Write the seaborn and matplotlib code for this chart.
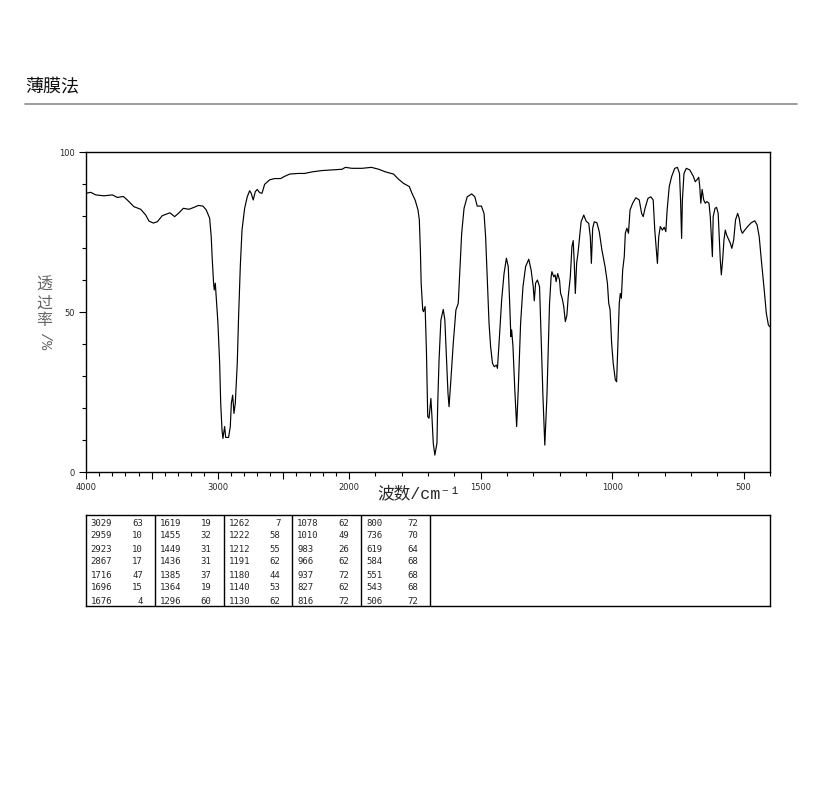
import numpy as np
import matplotlib
matplotlib.use("Agg")
import matplotlib.pyplot as plt
import seaborn as sns

# IR spectrum (wavenumber cm-1, transmittance %)
wavenumber = [
    4000, 3964, 3926, 3863, 3800, 3762, 3716, 3686, 3635, 3584, 3546, 3521, 3488, 3458,
    3420, 3387, 3362, 3326, 3293, 3260, 3217, 3179, 3145, 3111, 3086, 3060, 3048, 3040,
    3030, 3025, 3017, 3010, 2997, 2984, 2976, 2966, 2959, 2946, 2938, 2916, 2903, 2895,
    2885, 2875, 2865, 2850, 2840, 2827, 2814, 2794, 2774, 2756, 2744, 2729, 2713, 2698,
    2680, 2662, 2642, 2604, 2566, 2520, 2495, 2452, 2389, 2338, 2280, 2206, 2130, 2054,
    2028, 1989, 1951, 1915, 1887, 1862, 1831, 1812, 1793, 1771, 1761, 1749, 1738, 1733,
    1729, 1726, 1720, 1717, 1711, 1706, 1701, 1696, 1689, 1685, 1680, 1674, 1666, 1663,
    1658, 1651, 1642, 1636, 1630, 1624, 1620, 1613, 1604, 1594, 1585, 1578, 1572, 1563,
    1551, 1534, 1522, 1513, 1497, 1487, 1481, 1474, 1468, 1462, 1455, 1448, 1440, 1436,
    1430, 1420, 1411, 1402, 1395, 1390, 1385, 1382, 1377, 1370, 1363, 1357, 1348, 1339,
    1329, 1317, 1308, 1300, 1296, 1291, 1284, 1276, 1270, 1263, 1256, 1248, 1243, 1238,
    1232, 1229, 1222, 1217, 1213, 1207, 1200, 1196, 1190, 1184, 1178, 1172, 1167, 1159,
    1153, 1148, 1144, 1140, 1135, 1130, 1125, 1118, 1108, 1099, 1089, 1083, 1079, 1074,
    1068, 1058, 1049, 1039, 1027, 1018, 1013, 1008, 1002, 996, 988, 983, 979, 973,
    969, 965, 960, 954, 950, 944, 938, 932, 922, 910, 897, 888, 882, 875,
    864, 853, 844, 838, 832, 828, 823, 817, 809, 802, 796, 791, 783, 774,
    762, 752, 744, 740, 736, 733, 727, 718, 705, 692, 684, 676, 671, 667,
    663, 658, 652, 646, 640, 632, 627, 623, 619, 616, 609, 603, 597, 593,
    589, 585, 580, 575, 570, 565, 559, 551, 545, 538, 531, 523, 517, 511,
    505, 496, 483, 471, 458, 449, 441, 433, 422, 414, 406, 400,
]
transmittance = [
    87.1, 87.4, 86.6, 86.3, 86.6, 85.8, 86.1, 85.0, 82.9, 82.1, 80.3, 78.4, 77.8, 78.2,
    80.1, 80.6, 81.0, 79.8, 81.0, 82.4, 82.1, 82.7, 83.3, 83.1, 81.9, 79.3, 73.5, 66.3,
    59.0, 56.9, 59.0, 54.8, 46.5, 34.0, 21.5, 13.1, 10.5, 14.2, 10.8, 10.8, 14.2, 21.5,
    24.0, 18.3, 21.5, 34.0, 48.5, 64.2, 75.6, 82.4, 86.0, 87.9, 87.1, 85.0, 87.6, 88.3,
    87.3, 87.1, 89.9, 91.3, 91.7, 91.7, 92.3, 93.1, 93.3, 93.3, 93.8, 94.2, 94.4, 94.6,
    95.2, 94.9, 94.9, 95.2, 94.6, 93.8, 93.1, 91.5, 90.2, 89.2, 87.1, 85.0, 81.9, 78.8,
    69.4, 59.0, 50.6, 50.1, 51.7, 38.0, 17.3, 16.8, 23.0, 17.3, 9.0, 5.3, 9.0, 21.5,
    35.0, 47.5, 50.8, 47.5, 36.0, 24.6, 20.4, 28.8, 40.2, 50.6, 52.7, 64.2, 74.6, 82.4,
    86.0, 86.9, 86.0, 83.1, 83.1, 80.8, 73.5, 59.0, 46.5, 39.2, 34.0, 32.9, 33.4, 32.4,
    40.2, 53.8, 62.0, 66.8, 64.2, 53.8, 42.3, 44.4, 39.2, 25.6, 14.2, 25.6, 46.5, 57.9,
    64.2, 66.5, 63.1, 57.9, 53.5, 59.0, 60.0, 57.9, 42.3, 23.5, 8.4, 23.5, 38.0, 52.7,
    61.0, 62.6, 61.0, 61.6, 59.5, 62.0, 60.0, 55.8, 54.3, 51.7, 47.0, 49.0, 54.8, 61.0,
    70.4, 72.3, 65.2, 55.8, 65.2, 68.3, 72.5, 78.2, 80.3, 78.4, 77.7, 73.5, 65.2, 76.2,
    78.2, 77.9, 75.1, 69.4, 64.2, 59.0, 52.7, 50.8, 40.2, 34.0, 28.8, 28.2, 38.0, 52.7,
    55.8, 54.3, 63.1, 67.3, 74.6, 76.2, 74.6, 81.9, 84.0, 85.7, 85.0, 80.8, 79.8, 82.4,
    85.5, 86.0, 85.0, 75.6, 69.4, 65.2, 73.5, 76.7, 75.6, 76.5, 75.1, 81.9, 89.2, 92.3,
    94.9, 95.2, 93.3, 85.0, 73.0, 85.0, 93.3, 94.9, 94.4, 92.5, 90.7, 91.5, 92.1, 89.2,
    84.0, 88.3, 85.0, 84.0, 84.5, 84.0, 79.8, 73.5, 67.3, 79.8, 82.4, 82.7, 80.8, 73.5,
    66.3, 61.6, 66.3, 72.5, 75.6, 74.1, 73.0, 71.5, 69.9, 72.5, 78.8, 80.8, 79.3, 75.8,
    74.6, 75.6, 76.9, 77.9, 78.5, 77.2, 73.5, 66.3, 56.9, 49.6, 45.9, 45.4,
]

# peak table (wavenumber, %T), five columns of seven rows
peak_wn = [
    [3029, 2959, 2923, 2867, 1716, 1696, 1676],
    [1619, 1455, 1449, 1436, 1385, 1364, 1296],
    [1262, 1222, 1212, 1191, 1180, 1140, 1130],
    [1078, 1010, 983, 966, 937, 827, 816],
    [800, 736, 619, 584, 551, 543, 506],
]
peak_t = [
    [63, 10, 10, 17, 47, 15, 4],
    [19, 32, 31, 31, 37, 19, 60],
    [7, 58, 55, 62, 44, 53, 62],
    [62, 49, 26, 62, 72, 62, 72],
    [72, 70, 64, 68, 68, 68, 72],
]

x_ticks = [4000, 3500, 3000, 2500, 2000, 1500, 1000, 500]
x_tick_labels = ["4000", "", "3000", "", "2000", "1500", "1000", "500"]

sns.set_style("white")
plt.rcParams['font.family'] = ['DejaVu Sans', 'Noto Sans CJK SC']

fig = plt.figure(figsize=(8.22, 7.94), dpi=100)

# title and rule
fig.text(25 / 822, 1 - 87 / 794, "薄膜法", fontsize=13, va="center", ha="left",
         family=['Noto Sans CJK SC'], color="#111111")
fig.add_artist(plt.Line2D([25 / 822, 797 / 822], [1 - 104 / 794, 1 - 104 / 794],
                          color="#8c8c8c", lw=1.2))

ax = fig.add_axes([86 / 822, 322 / 794, 684 / 822, 320 / 794])


# wavenumber axis changes scale at 2000 cm-1
def fwd(w):
    w = np.asarray(w, float)
    return np.where(w >= 2000, (w - 2000) / 2.0, w - 2000)


def inv(u):
    u = np.asarray(u, float)
    return np.where(u >= 0, 2000 + 2 * u, u + 2000)


sns.lineplot(x=wavenumber, y=transmittance, ax=ax, sort=False, estimator=None,
             color="black", lw=0.85)
ax.set_xscale("function", functions=(fwd, inv))
ax.set_xlim(4000, 400)
ax.set_ylim(0, 100)

ax.set_xticks(x_ticks)
ax.set_xticklabels(x_tick_labels)
ax.set_xticks(np.arange(400, 4001, 100), minor=True)
ax.set_yticks([0, 50, 100])
ax.set_yticklabels(["0", "50", "100"])
ax.set_yticks(np.arange(0, 101, 10), minor=True)
ax.tick_params(which="both", direction="out", color="black", width=0.8,
               bottom=True, left=True, top=False, right=False)
ax.tick_params(which="major", length=5, labelsize=6, pad=3)
ax.tick_params(which="minor", length=3)
for s in ax.spines.values():
    s.set_color("black")
    s.set_linewidth(1.0)
ax.set_xlabel("")
ax.set_ylabel("")

fig.text(419 / 822, 1 - 493 / 794, "波数/cm⁻¹", fontsize=12, ha="center", va="center",
         family=['Liberation Mono', 'DejaVu Sans Mono', 'Noto Sans CJK SC'])
fig.text(44 / 822, 1 - 303 / 794, "透\n过\n率", fontsize=11.5, ha="center", va="center",
         color="#666666", linespacing=1.05, family=['Noto Sans CJK SC'])
fig.text(44 / 822, 1 - 341 / 794, "/%", fontsize=11, ha="center", va="center",
         color="#666666", rotation=-90, family=['Liberation Mono', 'DejaVu Sans'])

# peak table
tax = fig.add_axes([86 / 822, 188 / 794, 684 / 822, 91 / 794])
tax.set_xlim(0, 1)
tax.set_ylim(0, 1)
tax.set_xticks([])
tax.set_yticks([])
for s in tax.spines.values():
    s.set_color("black")
    s.set_linewidth(1.0)
col_w = 68.8 / 684
row_y = [1 - d / 91 for d in (8, 21, 34, 47, 60, 73, 86)]
for c in range(len(peak_wn)):
    left = c * col_w
    tax.axvline(left + col_w, color="black", lw=1.0)
    for r in range(len(peak_wn[c])):
        tax.text(left + 0.007, row_y[r], str(peak_wn[c][r]), fontsize=6.5,
                 ha="left", va="center", family="DejaVu Sans Mono")
        tax.text(left + 0.083, row_y[r], str(peak_t[c][r]), fontsize=6.5,
                 ha="right", va="center", family="DejaVu Sans Mono")

fig.savefig("out.png", dpi=100)
